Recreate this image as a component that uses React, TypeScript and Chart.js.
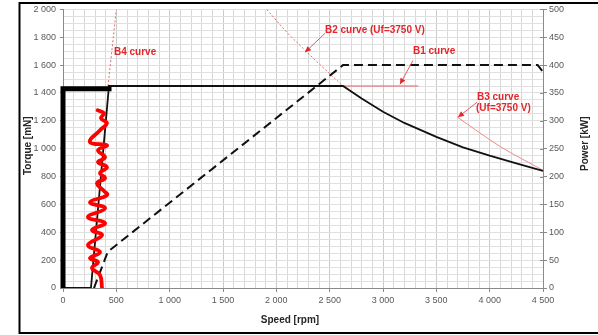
import React, { useEffect, useRef } from 'react';
import { Chart, registerables } from 'chart.js';

Chart.register(...registerables);

// ---- data (rpm, mN or kW) ----
const torqueRpm = [0, 262, 431, 2625, 2800, 3000, 3200, 3500, 3750, 4000, 4250, 4500];
const torqueMn = [0, 0, 1450, 1450, 1360, 1265, 1185, 1085, 1010, 950, 895, 840];

const bracketRpm = [0, 0, 455];
const bracketMn = [0, 1430, 1430];

const powerRpm = [290, 420, 2625, 4450, 4500];
const powerKw = [0, 65, 400, 400, 388];

const b1Rpm = [2625, 3330];
const b1Mn = [1450, 1450];

const b2Rpm = [1910, 2100, 2270, 2437, 2625];
const b2Mn = [2000, 1835, 1706, 1584, 1450];

const b3Rpm = [3700, 4100, 4500];
const b3Mn = [1225, 1015, 845];

const b4Rpm = [422, 500];
const b4Mn = [1450, 2000];

const scribbleRpm = [325, 384, 356, 412, 347, 253, 412, 328, 394, 328, 412, 347, 394, 319, 375, 412, 253, 394, 234, 394, 272, 366, 234, 347, 253, 328, 272, 347, 366];
const scribbleMn = [1276, 1254, 1219, 1183, 1133, 1047, 1025, 989, 939, 903, 867, 824, 789, 753, 703, 667, 616, 573, 509, 466, 416, 380, 308, 258, 215, 186, 143, 93, 0];

// annotations: label text and anchor in data coords (rpm, mN)
const labelTexts = ['B4 curve', 'B2 curve (Uf=3750 V)', 'B1 curve', 'B3 curve', '(Uf=3750 V)'];
const labelRpm = [478, 2456, 3281, 3881, 3872];
const labelMn = [1692, 1849, 1699, 1369, 1290];

const arrowFromRpm = [2456, 3281, 3881];
const arrowFromMn = [1828, 1634, 1333];
const arrowToRpm = [2269, 3159, 3703];
const arrowToMn = [1692, 1462, 1226];

const speedRange = [0, 4500];
const torqueRange = [0, 2000];
const powerRange = [0, 500];

const FONT = '"Liberation Sans", Arial, sans-serif';
const RED = '#e3262b';

const zip = (xs: number[], ys: number[]) => xs.map((x, i) => ({ x, y: ys[i] }));

const fmt = (v: number) => {
  if (v >= 1000) {
    const th = Math.floor(v / 1000);
    const rest = String(v % 1000).padStart(3, '0');
    return `${th} ${rest}`;
  }
  return String(v);
};

const overlayPlugin = {
  id: 'overlay',
  afterDatasetsDraw(chart: any) {
    const { ctx, scales } = chart;
    const xs = scales.x;
    const ys = scales.y;
    ctx.save();
    // arrows
    for (let i = 0; i < arrowFromRpm.length; i++) {
      const x0 = xs.getPixelForValue(arrowFromRpm[i]);
      const y0 = ys.getPixelForValue(arrowFromMn[i]);
      const x1 = xs.getPixelForValue(arrowToRpm[i]);
      const y1 = ys.getPixelForValue(arrowToMn[i]);
      ctx.strokeStyle = '#e85a5e';
      ctx.lineWidth = 1;
      ctx.beginPath();
      ctx.moveTo(x0, y0);
      ctx.lineTo(x1, y1);
      ctx.stroke();
      const ang = Math.atan2(y1 - y0, x1 - x0);
      const L = 6, W = 2.8;
      ctx.fillStyle = RED;
      ctx.beginPath();
      ctx.moveTo(x1, y1);
      ctx.lineTo(x1 - L * Math.cos(ang) + W * Math.sin(ang), y1 - L * Math.sin(ang) - W * Math.cos(ang));
      ctx.lineTo(x1 - L * Math.cos(ang) - W * Math.sin(ang), y1 - L * Math.sin(ang) + W * Math.cos(ang));
      ctx.closePath();
      ctx.fill();
    }
    // labels
    ctx.font = `bold 10px ${FONT}`;
    ctx.fillStyle = RED;
    ctx.textAlign = 'left';
    ctx.textBaseline = 'middle';
    for (let i = 0; i < labelTexts.length; i++) {
      ctx.fillText(labelTexts[i], xs.getPixelForValue(labelRpm[i]), ys.getPixelForValue(labelMn[i]));
    }
    // inner half of right-axis tick crosses
    const y1s = scales.y1;
    ctx.strokeStyle = '#8a8a8a';
    ctx.lineWidth = 1;
    for (const t of y1s.ticks) {
      const py = Math.round(y1s.getPixelForValue(t.value)) + 0.5;
      ctx.beginPath();
      ctx.moveTo(chart.chartArea.right - 3, py);
      ctx.lineTo(chart.chartArea.right, py);
      ctx.stroke();
    }
    ctx.restore();
  },
  afterDraw(chart: any) {
    const { ctx, chartArea } = chart;
    ctx.save();
    // outer frame
    ctx.strokeStyle = '#000';
    ctx.lineWidth = 2;
    ctx.beginPath();
    ctx.moveTo(600, 3);
    ctx.lineTo(19.5, 3);
    ctx.lineTo(19.5, 333);
    ctx.lineTo(600, 333);
    ctx.stroke();
    // axis titles
    ctx.fillStyle = '#262626';
    ctx.font = `bold 10px ${FONT}`;
    ctx.textAlign = 'center';
    ctx.textBaseline = 'middle';
    ctx.fillText('Speed [rpm]', 290, 320);
    const midY = (chartArea.top + chartArea.bottom) / 2;
    ctx.save();
    ctx.translate(28, midY - 3);
    ctx.rotate(-Math.PI / 2);
    ctx.fillText('Torque [mN]', 0, 0);
    ctx.restore();
    ctx.save();
    ctx.translate(585, midY - 5);
    ctx.rotate(-Math.PI / 2);
    ctx.fillText('Power [kW]', 0, 0);
    ctx.restore();
    ctx.restore();
  },
};

export default function App() {
  const ref = useRef<HTMLCanvasElement | null>(null);

  useEffect(() => {
    if (!ref.current) return;
    Chart.defaults.font.family = FONT;
    const line = (data: any, extra: any) => ({
      data,
      showLine: true,
      pointRadius: 0,
      fill: false,
      ...extra,
    });
    const chart = new Chart(ref.current, {
      type: 'scatter',
      data: {
        datasets: [
          line(zip(scribbleRpm, scribbleMn), { borderColor: '#ff0000', borderWidth: 3.8, tension: 0.45, borderCapStyle: 'round', borderJoinStyle: 'round' }),
          line(zip(bracketRpm, bracketMn), { borderColor: '#000', borderWidth: 5, borderJoinStyle: 'miter', clip: false, tension: 0.0001 }),
          line(zip(torqueRpm, torqueMn), { borderColor: '#111', borderWidth: 1.8 }),
          line(zip(powerRpm, powerKw), { borderColor: '#111', borderWidth: 2, borderDash: [9, 5], yAxisID: 'y1' }),
          line(zip(b1Rpm, b1Mn), { borderColor: '#e85a5e', borderWidth: 1 }),
          line(zip(b2Rpm, b2Mn), { borderColor: '#e36b6e', borderWidth: 1, borderDash: [2, 2], tension: 0.4 }),
          line(zip(b3Rpm, b3Mn), { borderColor: '#f08a8c', borderWidth: 1, tension: 0.3 }),
          line(zip(b4Rpm, b4Mn), { borderColor: '#e36b6e', borderWidth: 1, borderDash: [2, 2] }),
        ],
      },
      options: {
        responsive: false,
        animation: false,
        events: [],
        layout: { padding: { top: 9, left: 0, right: 0, bottom: 0 } },
        plugins: { legend: { display: false }, tooltip: { enabled: false } },
        scales: {
          x: {
            type: 'linear',
            min: speedRange[0],
            max: speedRange[1],
            afterFit: (s: any) => { s.height = 47; },
            border: { color: '#8a8a8a', width: 1 },
            grid: {
              color: (c: any) => (c.tick && c.tick.value % 500 === 0 ? '#cbcbcb' : '#d8d8d8'),
              tickColor: (c: any) => (c.tick && c.tick.value % 500 === 0 ? '#8a8a8a' : 'rgba(0,0,0,0)'),
              tickLength: 4,
            },
            ticks: {
              stepSize: 100,
              autoSkip: false,
              maxRotation: 0,
              padding: 3,
              color: '#595959',
              font: { size: 9, family: FONT },
              callback: (v: any) => (Number(v) % 500 === 0 ? fmt(Number(v)) : ''),
            },
          },
          y: {
            type: 'linear',
            position: 'left',
            min: torqueRange[0],
            max: torqueRange[1],
            afterFit: (s: any) => { s.width = 63; },
            border: { color: '#8a8a8a', width: 1 },
            grid: {
              color: '#e0e0e0',
              tickColor: (c: any) => (c.tick && c.tick.value % 200 === 0 ? '#8a8a8a' : 'rgba(0,0,0,0)'),
              tickLength: 3,
            },
            ticks: {
              stepSize: 50,
              autoSkip: false,
              padding: 4,
              color: '#595959',
              font: { size: 9, family: FONT },
              callback: (v: any) => (Number(v) % 200 === 0 ? fmt(Number(v)) : ''),
            },
          },
          y1: {
            type: 'linear',
            position: 'right',
            min: powerRange[0],
            max: powerRange[1],
            afterFit: (s: any) => { s.width = 55; },
            border: { color: '#8a8a8a', width: 1 },
            grid: { drawOnChartArea: false, tickColor: '#8a8a8a', tickLength: 4 },
            ticks: {
              stepSize: 50,
              autoSkip: false,
              padding: 2,
              color: '#595959',
              font: { size: 9, family: FONT },
              callback: (v: any) => fmt(Number(v)),
            },
          },
        },
      },
      plugins: [overlayPlugin],
    } as any);
    return () => chart.destroy();
  }, []);

  return (
    <div style={{ position: 'absolute', left: 0, top: 0, width: 598, height: 335, background: '#fff' }}>
      <canvas ref={ref} width={598} height={335} style={{ display: 'block' }} />
    </div>
  );
}
